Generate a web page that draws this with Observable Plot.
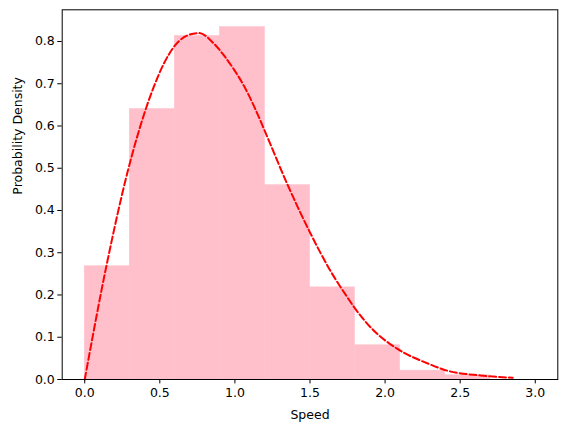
<!DOCTYPE html>
<html>
<head>
<meta charset="utf-8">
<script src="https://cdn.jsdelivr.net/npm/d3@7"></script>
<script src="https://cdn.jsdelivr.net/npm/@observablehq/plot@0.6"></script>
<style>
  html, body { margin: 0; padding: 0; background: #fff; }
  #chart svg { display: block; }
</style>
</head>
<body>
<div id="chart"></div>
<script>
// Histogram bins (Speed) and densities
const binEdges = [0.0, 0.3, 0.6, 0.9, 1.2, 1.5, 1.8, 2.1, 2.4, 2.7, 3.0];
const binDensity = [0.268, 0.640, 0.813, 0.834, 0.460, 0.218, 0.081, 0.021, 0.010, 0.0];

// Theoretical curve
const curveSpeed = [0.0, 0.144, 0.288, 0.399, 0.459, 0.526, 0.593, 0.682, 0.76, 0.86, 0.927, 0.993, 1.06, 1.127, 1.198, 1.348, 1.50, 1.648, 1.748, 1.796, 1.924, 2.08, 2.29, 2.413, 2.635, 2.85];
const curveDensity = [0.0, 0.268, 0.495, 0.632, 0.692, 0.747, 0.787, 0.814, 0.820, 0.795, 0.767, 0.734, 0.695, 0.647, 0.589, 0.463, 0.348, 0.250, 0.195, 0.170, 0.116, 0.073, 0.037, 0.021, 0.0095, 0.004];

const xTicks = [0.0, 0.5, 1.0, 1.5, 2.0, 2.5, 3.0];
const yTicks = [0.0, 0.1, 0.2, 0.3, 0.4, 0.5, 0.6, 0.7, 0.8];

const bars = binDensity.map((d, i) => ({x1: binEdges[i], x2: binEdges[i + 1], y: d}));
const curve = curveSpeed.map((s, i) => ({x: s, y: curveDensity[i]}));

const font = "DejaVu Sans, sans-serif";
const plot = Plot.plot({
  width: 567,
  height: 432,
  marginLeft: 61.7,
  marginRight: 9.7,
  marginTop: 9.3,
  marginBottom: 53,
  style: {fontFamily: font, fontSize: "12.5px", color: "#000", background: "#fff"},
  x: {domain: [-0.15, 3.15]},
  y: {domain: [0, 0.875]},
  marks: [
    Plot.rectY(bars, {x1: "x1", x2: "x2", y1: 0, y2: "y", fill: "pink", stroke: "pink", strokeWidth: 0.5, inset: 0}),
    Plot.line(curve, {x: "x", y: "y", stroke: "red", strokeWidth: 2, strokeDasharray: "6.9,3", curve: "monotone-x"}),
    Plot.frame({stroke: "#000", strokeWidth: 1}),
    Plot.axisX(xTicks, {tickSize: 4.4, tickPadding: 4, tickFormat: d => d.toFixed(1), label: null, fontSize: 12.5, strokeWidth: 1}),
    Plot.axisY(yTicks, {tickSize: 4.4, tickPadding: 3, tickFormat: d => d.toFixed(1), label: null, fontSize: 12.5, strokeWidth: 1}),
    Plot.text(["Speed"], {frameAnchor: "bottom", dy: 35, text: d => d, fontSize: 12.5, lineAnchor: "middle"}),
    Plot.text(["Probability Density"], {frameAnchor: "left", dx: -44, rotate: -90, text: d => d, fontSize: 12.5, lineAnchor: "middle"})
  ]
});
document.getElementById("chart").appendChild(plot);
</script>
</body>
</html>
